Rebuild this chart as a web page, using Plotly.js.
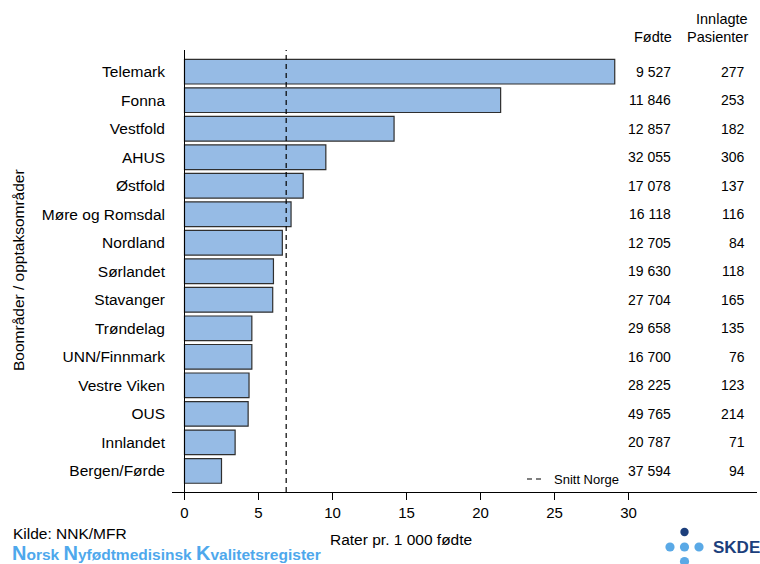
<!DOCTYPE html>
<html>
<head>
<meta charset="utf-8">
<script src="https://cdn.plot.ly/plotly-3.0.1.min.js"></script>
<style>html,body{margin:0;padding:0;background:#fff;}#chart{width:760px;height:564px;}</style>
</head>
<body>
<div id="chart"></div>
<script>
const areas = ["Telemark","Fonna","Vestfold","AHUS","Østfold","Møre og Romsdal","Nordland","Sørlandet","Stavanger","Trøndelag","UNN/Finnmark","Vestre Viken","OUS","Innlandet","Bergen/Førde"];
const rates = [29.07,21.36,14.16,9.55,8.02,7.20,6.61,6.01,5.96,4.55,4.55,4.36,4.30,3.42,2.50];
const fodte = ["9 527","11 846","12 857","32 055","17 078","16 118","12 705","19 630","27 704","29 658","16 700","28 225","49 765","20 787","37 594"];
const innlagte = ["277","253","182","306","137","116","84","118","165","135","76","123","214","71","94"];
const snittNorge = 6.87;
const xTicks = [0,5,10,15,20,25,30];

const W = 760, H = 564, ML = 172, MR = 3, MT = 50, MB = 72;
const PW = W - ML - MR, PH = H - MT - MB;
const px = p => (p - ML) / PW;
const py = p => (H - MB - p) / PH;
const FONT = "Liberation Sans, Arial, sans-serif";

const traces = [{
  type: "bar", orientation: "h",
  x: rates, y: areas,
  width: 0.865,
  marker: {color: "#96bbe5", line: {color: "#2f2f2f", width: 1.2}},
  hoverinfo: "x+y", showlegend: false
}];

const annotations = [];
areas.forEach((a, i) => {
  annotations.push({x: px(673), y: a, xref: "paper", yref: "y", text: fodte[i], showarrow: false, xanchor: "right", yanchor: "middle", font: {size: 14, color: "#000", family: FONT}});
  annotations.push({x: px(747), y: a, xref: "paper", yref: "y", text: innlagte[i], showarrow: false, xanchor: "right", yanchor: "middle", font: {size: 14, color: "#000", family: FONT}});
});
annotations.push({x: px(674), y: py(37), xref: "paper", yref: "paper", text: "Fødte", showarrow: false, xanchor: "right", yanchor: "middle", font: {size: 14.5, color: "#000", family: FONT}});
annotations.push({x: px(750), y: py(37), xref: "paper", yref: "paper", text: "Pasienter", showarrow: false, xanchor: "right", yanchor: "middle", font: {size: 14.5, color: "#000", family: FONT}});
annotations.push({x: px(750), y: py(19), xref: "paper", yref: "paper", text: "Innlagte", showarrow: false, xanchor: "right", yanchor: "middle", font: {size: 14.5, color: "#000", family: FONT}});
// legend text
annotations.push({x: px(552), y: py(479), xref: "paper", yref: "paper", text: "Snitt Norge", showarrow: false, xanchor: "left", yanchor: "middle", font: {size: 13, color: "#000", family: FONT}});
// x title
annotations.push({x: 14.6, y: py(539), xref: "x", yref: "paper", text: "Rater pr. 1 000 fødte", showarrow: false, xanchor: "center", yanchor: "middle", font: {size: 15.5, color: "#000", family: FONT}});
// y title
annotations.push({x: px(18), y: py(270), xref: "paper", yref: "paper", text: "Boområder / opptaksområder", textangle: -90, showarrow: false, xanchor: "center", yanchor: "middle", font: {size: 15.5, color: "#000", family: FONT}});
// source
annotations.push({x: px(11), y: py(533), xref: "paper", yref: "paper", text: "Kilde: NNK/MFR", showarrow: false, xanchor: "left", yanchor: "middle", font: {size: 15.5, color: "#000", family: FONT}});
annotations.push({x: px(10), y: py(553), xref: "paper", yref: "paper",
  text: "<b><span style=\"font-size:20px\">N</span>orsk <span style=\"font-size:20px\">N</span>yfødtmedisinsk <span style=\"font-size:20px\">K</span>valitetsregister</b>",
  showarrow: false, xanchor: "left", yanchor: "middle", font: {size: 15.5, color: "#4ea8ec", family: FONT}});
// logo text
annotations.push({x: px(711), y: py(547), xref: "paper", yref: "paper", text: "<b>SKDE</b>", showarrow: false, xanchor: "left", yanchor: "middle", font: {size: 17, color: "#1c3f7c", family: FONT}});

const shapes = [
  {type: "line", xref: "x", yref: "paper", x0: 0, x1: 0, y0: 0, y1: 1, line: {color: "#000", width: 1}},
  {type: "line", xref: "x", yref: "paper", x0: snittNorge, x1: snittNorge, y0: 0, y1: 1, line: {color: "#000", width: 1.2, dash: "5px,4px"}},
  {type: "line", xref: "paper", yref: "paper", x0: px(527), x1: px(542), y0: py(479), y1: py(479), line: {color: "#000", width: 1.2, dash: "5px,4px"}}
];
const dot = (cx, cy, r, c) => ({type: "circle", xref: "paper", yref: "paper", x0: px(cx - r), x1: px(cx + r), y0: py(cy + r), y1: py(cy - r), fillcolor: c, line: {width: 0}});
shapes.push(dot(684.5, 532, 4.2, "#1c3f7c"));
shapes.push(dot(670, 547, 4.6, "#5aa9e6"));
shapes.push(dot(684.5, 547, 4.6, "#5aa9e6"));
shapes.push(dot(699, 547, 4.6, "#5aa9e6"));
shapes.push(dot(684.5, 561.5, 4.6, "#5aa9e6"));

const xr0 = -(184.5 - ML) / 14.8;
const layout = {
  width: W, height: H,
  margin: {l: ML, r: MR, t: MT, b: MB, pad: 0},
  paper_bgcolor: "#fff", plot_bgcolor: "#fff",
  font: {family: FONT, size: 15, color: "#000"},
  showlegend: false,
  xaxis: {range: [xr0, xr0 + PW / 14.8], tickvals: xTicks, ticktext: xTicks.map(String),
    showgrid: false, zeroline: false, showline: true, linecolor: "#000", linewidth: 1,
    ticks: "outside", ticklen: 7, tickcolor: "#000", tickwidth: 1,
    tickfont: {size: 15, color: "#000", family: FONT}, fixedrange: true},
  yaxis: {type: "category", categoryorder: "array", categoryarray: areas, range: [14.74, -0.76],
    showgrid: false, zeroline: false, showline: false, ticks: "", ticklabelstandoff: 6,
    tickfont: {size: 15.5, color: "#000", family: FONT}, fixedrange: true},
  annotations: annotations,
  shapes: shapes
};
Plotly.newPlot("chart", traces, layout, {displayModeBar: false, staticPlot: true});
</script>
</body>
</html>
